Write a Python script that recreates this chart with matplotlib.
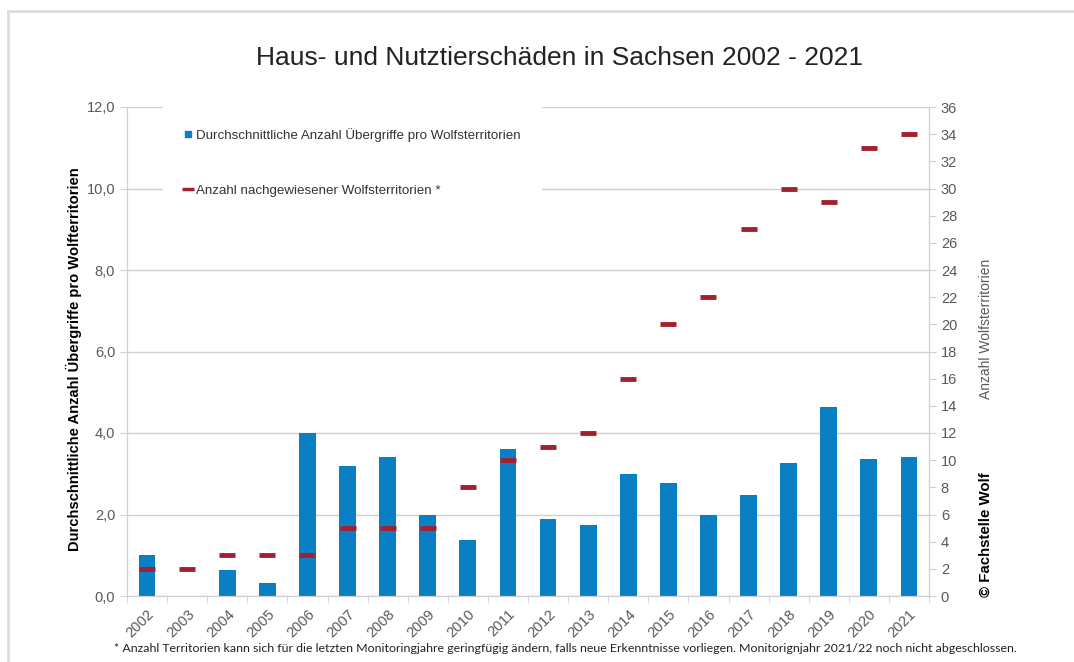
import numpy as np
import matplotlib.pyplot as plt
from matplotlib.lines import Line2D
from matplotlib.ticker import FuncFormatter

# Daten
jahre = [str(j) for j in range(2002, 2022)]
uebergriffe = [1.0, 0.0, 0.65, 0.33, 4.0, 3.2, 3.4, 2.0, 1.37, 3.6,
               1.9, 1.75, 3.0, 2.78, 2.0, 2.47, 3.26, 4.65, 3.37, 3.4]
territorien = [2, 2, 3, 3, 3, 5, 5, 5, 8, 10,
               11, 12, 16, 20, 22, 27, 30, 29, 33, 34]

blau = '#0A7FC4'
rot = '#A3202F'
grau = '#595959'
hellgrau = '#D0D0D0'

plt.rcParams['font.family'] = ['Liberation Sans', 'DejaVu Sans']

fig = plt.figure(figsize=(10.74, 6.62), dpi=100)
ax = fig.add_axes([127 / 1074, 1 - 596 / 662, (929 - 127) / 1074, (596 - 107) / 662])
ax2 = ax.twinx()

x = np.arange(len(jahre))
ax.bar(x, uebergriffe, width=0.42, color=blau, zorder=2)
ax2.plot(x, territorien, linestyle='none', marker='_', markersize=12,
         markeredgewidth=3.5, color=rot, zorder=3)

# Achsen links
ax.set_xlim(-0.5, len(jahre) - 0.5)
ax.set_ylim(0, 12)
ax.set_yticks(np.arange(0, 12.1, 2))
ax.yaxis.set_major_formatter(FuncFormatter(lambda v, p: f'{v:.1f}'.replace('.', ',')))
ax.grid(axis='y', color=hellgrau, linewidth=1)
ax.set_axisbelow(True)
ax.tick_params(axis='y', colors=hellgrau, labelcolor=grau, labelsize=10.5, length=5)

ax.set_xticks(x)
ax.set_xticklabels(jahre, rotation=45, ha='right', rotation_mode='anchor',
                   color=grau, fontsize=10.5)
ax.tick_params(axis='x', which='major', length=0, pad=8)
ax.set_xticks(np.arange(-0.5, len(jahre), 1), minor=True)
ax.tick_params(axis='x', which='minor', length=5, color=hellgrau)

# Achse rechts
ax2.set_ylim(0, 36)
ax2.set_yticks(np.arange(0, 37, 2))
ax2.tick_params(axis='y', colors=hellgrau, labelcolor=grau, labelsize=10.5, length=5)

for a in (ax, ax2):
    a.spines['top'].set_visible(False)
    a.spines['left'].set_color(hellgrau)
    a.spines['right'].set_color(hellgrau)
    a.spines['bottom'].set_color(hellgrau)

# Legende
handles = [
    Line2D([], [], linestyle='none', marker='s', markersize=5, color=blau),
    Line2D([], [], linestyle='none', marker='_', markersize=8, markeredgewidth=2.5, color=rot),
]
labels = ['Durchschnittliche Anzahl Übergriffe pro Wolfsterritorien',
          'Anzahl nachgewiesener Wolfsterritorien *']
leg = ax2.legend(handles, labels, loc='upper left', bbox_to_anchor=(0.036, 1.014),
                 frameon=True, facecolor='white', edgecolor='none', framealpha=1,
                 fancybox=False, fontsize=9.6, labelspacing=3.2, handlelength=0.6,
                 handletextpad=0.3, borderpad=1.6)
for t in leg.get_texts():
    t.set_color('#333333')

# Texte
fig.text(560 / 1074, 1 - 58 / 662, 'Haus- und Nutztierschäden in Sachsen 2002 - 2021',
         ha='center', va='center', fontsize=19, color='#222222')
fig.text(74 / 1074, 1 - 359 / 662, 'Durchschnittliche Anzahl Übergriffe pro Wolfterritorien',
         rotation=90, ha='center', va='center', fontsize=10.6, fontweight='bold')
fig.text(986 / 1074, 1 - 329 / 662, 'Anzahl Wolfsterritorien',
         rotation=90, ha='center', va='center', fontsize=10, color=grau)
fig.text(986 / 1074, 1 - 535 / 662, '© Fachstelle Wolf',
         rotation=90, ha='center', va='center', fontsize=10.8, fontweight='bold')
fig.text(565 / 1074, 1 - 648 / 662,
         '* Anzahl Territorien kann sich für die letzten Monitoringjahre geringfügig ändern, '
         'falls neue Erkenntnisse vorliegen. Monitorignjahr 2021/22 noch nicht abgeschlossen.',
         ha='center', va='center', fontsize=8.9, color='#222222',
         family=['Lato', 'DejaVu Sans'])

# Rahmen oben und links
fig.add_artist(Line2D([8 / 1074, 8 / 1074], [0, 1 - 11 / 662], color='#DDDDDD', linewidth=2))
fig.add_artist(Line2D([8 / 1074, 1], [1 - 11 / 662, 1 - 11 / 662], color='#DDDDDD', linewidth=2))

fig.savefig('out.png', dpi=100)
